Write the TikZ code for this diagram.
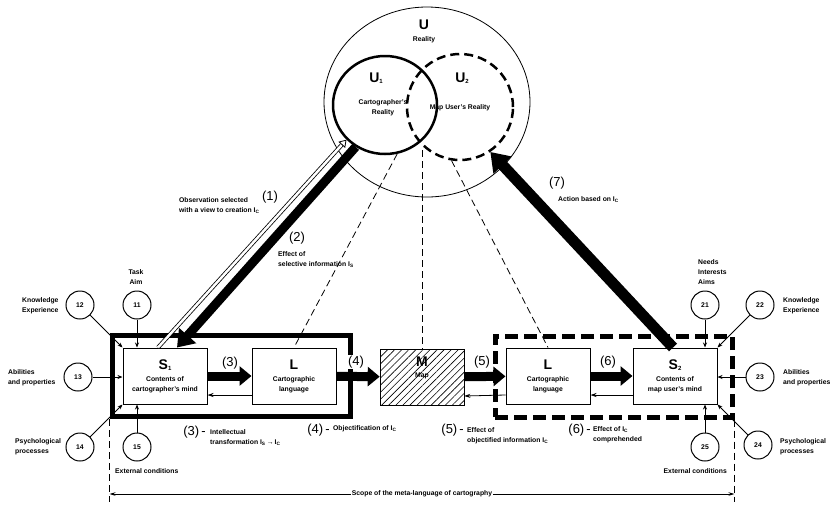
\documentclass[tikz,border=0pt]{standalone}
\usepackage{fontspec}
\setmainfont{Liberation Sans}
\usetikzlibrary{arrows.meta,shapes.geometric,patterns.meta,positioning}
\newcommand\tinysub[1]{\raisebox{-1.5pt}{\fontsize{6}{6}\selectfont #1}}

\begin{document}
\begin{tikzpicture}[
x=1pt, y=-1pt,
every node/.style={font=\fontsize{6.8}{10}\selectfont\bfseries, inner sep=0pt},
txt/.style={align=left, anchor=west},
num/.style={font=\fontsize{13}{13}\selectfont},
big/.style={font=\fontsize{14}{14}\selectfont\bfseries},
box/.style={draw, line width=1pt, minimum width=84pt, minimum height=56pt, align=center},
ring/.style={draw, circle, line width=1pt, minimum size=28pt},
feed/.style={line width=0.8pt, -{Stealth[length=5pt,width=4pt]}},
back/.style={line width=0.8pt, -{Stealth[length=6pt,width=4pt]}},
fat/.style={line width=9pt, -{Triangle[length=12pt,width=19pt]}},
ray/.style={line width=0.8pt, dash pattern=on 7pt off 4pt}
]
\useasboundingbox (0,0) rectangle (835,504);

\node[draw, ellipse, line width=0.8pt, minimum width=206pt, minimum height=190pt] (U) at (427,102) {};
\node[draw, ellipse, line width=2.5pt, minimum width=104pt, minimum height=98pt] (U1) at (385,105) {};
\node[draw, ellipse, line width=2.5pt, dash pattern=on 9pt off 5pt, minimum width=106pt, minimum height=106pt] (U2) at (460,107) {};

\path
(424,25) node[big] (tU) {U}
(424,40) node (tR) {Reality}
(376,78) node[big] (tU1) {U\tinysub{1}}
(383,108) node[align=center] (tCR) {Cartographer's\\Reality}
(462,78) node[big] (tU2) {U\tinysub{2}}
(460,108) node (tMR) {Map User's Reality}
;

\node[draw, line width=5pt, minimum width=238pt, minimum height=81pt] (F1) at (231,376) {};
\node[draw, line width=5pt, dash pattern=on 13pt off 6pt, minimum width=237pt, minimum height=81pt] (F2) at (613.5,376.5) {};

\node[box] (S1) at (165,376) {{\fontsize{14}{14}\selectfont S\tinysub{1}}\\[2pt] Contents of\\cartographer's mind};
\node[box] (L1) at (294,376) {{\fontsize{14}{14}\selectfont L}\\[2pt] Cartographic\\language};
\node[box, pattern={Lines[angle=45,distance=5pt,line width=0.6pt]}] (M) at (422,377) {{\fontsize{14}{14}\selectfont M}\\[1pt] Map\\[10pt]};
\node[box] (L2) at (548,376) {{\fontsize{14}{14}\selectfont L}\\[2pt] Cartographic\\language};
\node[box] (S2) at (675,376) {{\fontsize{14}{14}\selectfont S\tinysub{2}}\\[2pt] Contents of\\map user's mind};

\draw[ray] (U1.284) -- (L1.north);
\coordinate (UX) at (422,150);
\draw[ray] (UX) -- (M.north);
\draw[ray] (U2.261) -- (L2.north);

\draw[double=white, double distance=2.5pt, line width=0.8pt, -{Triangle[open, length=7pt, width=9pt]}] ([xshift=-7pt]S1.north) -- (U1.222);
\draw[fat, line width=9pt, -{Triangle[length=16pt,width=22pt]}] (U1.235) -- ([xshift=12pt]S1.north);
\draw[fat, line width=11pt, -{Triangle[length=18pt,width=24pt]}] ([xshift=-2pt]S2.north) -- (U2.304);

\path
(230,363) node[num] (a3) {(3)}
(356,362) node[num, fill=white, inner sep=1pt] (a4) {(4)}
(482,362) node[num, fill=white, inner sep=1pt] (a5) {(5)}
(608,362) node[num] (a6) {(6)}
;

\draw[fat] (S1) -- (L1);
\draw[fat] (L1) -- (M);
\draw[fat] (M) -- (L2);
\draw[fat] (L2) -- (S2);
\draw[back] ([yshift=-19pt]L1.west) -- ([yshift=-19pt]S1.east);
\draw[back] ([yshift=-19pt]L2.west) -- ([yshift=-19pt]M.east);
\draw[back] ([yshift=-19pt]S2.west) -- ([yshift=-19pt]L2.east);

\foreach \n/\x/\y in {11/137/305, 12/80/305, 13/78/377, 14/80/447, 15/137/447,
                      21/705/305, 22/760/305, 23/760/377, 24/758/445, 25/705/447}
    \node[ring] (c\n) at (\x,\y) {\n};

\draw[feed] (c11) -- (c11 |- S1.north);
\draw[feed] (c12) -- (S1.north west);
\draw[feed] (c13) -- (c13 -| S1.west);
\draw[feed] (c14) -- (S1.south west);
\draw[feed] (c15) -- (c15 |- S1.south);
\draw[feed] (c21) -- (c21 |- S2.north);
\draw[feed] (c22) -- (S2.north east);
\draw[feed] (c23) -- (c23 -| S2.east);
\draw[feed] (c24) -- (S2.south east);
\draw[feed] (c25) -- (c25 |- S2.south);

\path
(136,277) node[align=center] (l11) {Task\\Aim}
(22,306) node[txt] (l12) {Knowledge\\Experience}
(8,378) node[txt] (l13) {Abilities\\and properties}
(15,447) node[txt] (l14) {Psychological\\processes}
(115,471) node[txt] (l15) {External conditions}
(698,272) node[txt] (l21) {Needs\\Interests\\Aims}
(783,306) node[txt] (l22) {Knowledge\\Experience}
(783,378) node[txt] (l23) {Abilities\\and properties}
(780,447) node[txt] (l24) {Psychological\\processes}
(727,471) node[txt, anchor=east] (l25) {External conditions}
;

\path
(270,197) node[num] (n1) {(1)}
(179,206) node[txt] (d1) {Observation selected\\with a view to creation I\textsubscript{C}}
(297,238) node[num] (n2) {(2)}
(278,260) node[txt] (d2) {Effect of\\selective information I\textsubscript{S}}
(557,183) node[num] (n7) {(7)}
(558,200) node[txt] (d7) {Action based on I\textsubscript{C}}
(206,432) node[num, anchor=east] (b3) {(3)\,-}
(210,438) node[txt] (e3) {Intellectual\\transformation I\textsubscript{S}\,→\,I\textsubscript{C}}
(330,430) node[num, anchor=east] (b4) {(4)\,-}
(333,429) node[txt] (e4) {Objectification of I\textsubscript{C}}
(464,430) node[num, anchor=east] (b5) {(5)\,-}
(467,436) node[txt] (e5) {Effect of\\objectified information I\textsubscript{C}}
(591,430) node[num, anchor=east] (b6) {(6)\,-}
(593,435) node[txt] (e6) {Effect of I\textsubscript{C}\\comprehended}
;

\coordinate (scL) at (F1.south west |- 0,502);
\coordinate (scR) at (F2.south east |- 0,502);
\draw[ray] (F1.south west) -- (scL);
\draw[ray] (F2.south east) -- (scR);
\draw[line width=0.8pt, {Stealth[length=6pt,width=3.5pt]}-{Stealth[length=6pt,width=3.5pt]}] (scL |- 0,494) -- (scR |- 0,494)
    node[midway, fill=white, inner sep=1pt] (scope) {Scope of the meta-language of cartography};

\end{tikzpicture}
\end{document}
